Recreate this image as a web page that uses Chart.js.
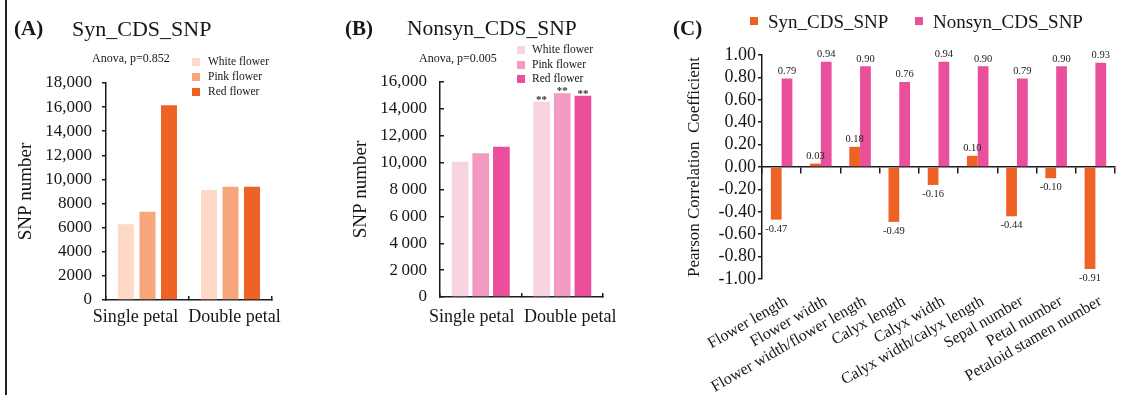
<!DOCTYPE html>
<html>
<head>
<meta charset="utf-8">
<title>SNP counts and trait correlations</title>
<script src="https://cdn.jsdelivr.net/npm/chart.js@4.4.1/dist/chart.umd.min.js"></script>
<style>
  html, body { margin: 0; padding: 0; background: #fff; }
  body { width: 1124px; height: 395px; position: relative; overflow: hidden;
         font-family: "Liberation Serif", "Times New Roman", serif; color: #161616; }
  canvas { position: absolute; top: 0; }
  .t { position: absolute; white-space: pre; line-height: 1; }
  .sw { position: absolute; width: 8px; height: 8px; }
  #frame { position: absolute; left: 5px; top: 0; width: 1.5px; height: 395px; background: #222; }
</style>
</head>
<body>
<div id="frame"></div>
<canvas id="chartA" width="300" height="395" style="left:0px"></canvas>
<canvas id="chartB" width="300" height="395" style="left:330px"></canvas>
<canvas id="chartC" width="484" height="395" style="left:640px"></canvas>
<script>
// ---- data -------------------------------------------------------------
const petalTypes = ['Single petal', 'Double petal'];
const flowerColours = ['White flower', 'Pink flower', 'Red flower'];

// synonymous CDS SNP counts per flower colour (single, double)
const synWhite = [6280, 9120];
const synPink  = [7320, 9400];
const synRed   = [16150, 9400];

// non-synonymous CDS SNP counts per flower colour (single, double)
const nonsynWhite = [10060, 14530];
const nonsynPink  = [10690, 15160];
const nonsynRed   = [11190, 14980];
// significance marks for the non-synonymous counts
const nonsynSigWhite = ['', '**'];
const nonsynSigPink  = ['', '**'];
const nonsynSigRed   = ['', '**'];

const anovaSyn = 'Anova, p=0.852';
const anovaNonsyn = 'Anova, p=0.005';

// Pearson correlation of SNP counts with floral traits
const traits = ['Flower length', 'Flower width', 'Flower width/flower length', 'Calyx length',
                'Calyx width', 'Calyx width/calyx length', 'Sepal number', 'Petal number',
                'Petaloid stamen number'];
const synCorr    = [-0.47, 0.03, 0.18, -0.49, -0.16, 0.10, -0.44, -0.10, -0.91];
const nonsynCorr = [0.79, 0.94, 0.90, 0.76, 0.94, 0.90, 0.79, 0.90, 0.93];

// ---- styling ------------------------------------------------------------
const SERIF = '"Liberation Serif", "Times New Roman", serif';
const INK = '#161616';
const AXIS = '#1c1c1c';
const H = 395;
const synColours = ['#fdd9c6', '#f7a77b', '#ef6226'];
const nonsynColours = ['#f8d3e2', '#f29ac2', '#eb4f9b'];
const corrColours = ['#ef6226', '#ea4f9c'];

// ---- text helpers -------------------------------------------------------
function placeText(text, left, baseline, size, extra) {
  const d = document.createElement('div');
  d.className = 't';
  d.textContent = text;
  d.style.left = left + 'px';
  d.style.top = (baseline - 0.8375 * size) + 'px';
  d.style.fontSize = size + 'px';
  if (extra) Object.assign(d.style, extra);
  document.body.appendChild(d);
}
function placeSwatch(colour, left, top) {
  const s = document.createElement('div');
  s.className = 'sw';
  s.style.left = left + 'px';
  s.style.top = top + 'px';
  s.style.background = colour;
  document.body.appendChild(s);
}

// panel letters and titles
placeText('(A)', 14, 36, 21, {fontWeight: 'bold'});
placeText('Syn_CDS_SNP', 72, 36.5, 22);
placeText(anovaSyn, 92, 62, 12);
placeText('(B)', 345, 36, 21, {fontWeight: 'bold'});
placeText('Nonsyn_CDS_SNP', 407, 36.5, 21.5);
placeText(anovaNonsyn, 419, 62, 12);
placeText('(C)', 673, 36, 21, {fontWeight: 'bold'});

// legends
const legendARows = [[58, 65.5], [73, 80.5], [88, 95.5]];
flowerColours.forEach((name, i) => {
  placeSwatch(synColours[i], 192, legendARows[i][0]);
  placeText(name, 208, legendARows[i][1], 11.5);
});
const legendBRows = [[46, 54], [61, 68.5], [75, 83]];
flowerColours.forEach((name, i) => {
  placeSwatch(nonsynColours[i], 517, legendBRows[i][0]);
  placeText(name, 532, legendBRows[i][1], 11.5);
});
const legendC = [['Syn_CDS_SNP', 750, 768], ['Nonsyn_CDS_SNP', 915, 933]];
legendC.forEach(([name, sx, tx], i) => {
  placeSwatch(corrColours[i], sx, 17);
  placeText(name, tx, 28, 19);
});

// ---- plugins ------------------------------------------------------------
// asterisks above significant bars
const sigMarks = {
  id: 'sigMarks',
  afterDatasetsDraw(chart, args, opts) {
    if (!opts.marks) return;
    const ctx = chart.ctx;
    ctx.save();
    ctx.font = 'bold 11px ' + SERIF;
    ctx.fillStyle = '#333';
    ctx.textAlign = 'center';
    ctx.textBaseline = 'alphabetic';
    opts.marks.forEach((row, i) => {
      chart.getDatasetMeta(i).data.forEach((bar, j) => {
        if (row[j]) ctx.fillText(row[j], bar.x, bar.y + 1);
      });
    });
    ctx.restore();
  }
};

// numeric labels at the ends of correlation bars
const valueLabels = {
  id: 'valueLabels',
  afterDatasetsDraw(chart, args, opts) {
    if (!opts.show) return;
    const ctx = chart.ctx;
    ctx.save();
    ctx.font = '10.5px ' + SERIF;
    ctx.fillStyle = '#222';
    ctx.textAlign = 'center';
    ctx.textBaseline = 'alphabetic';
    chart.data.datasets.forEach((ds, i) => {
      chart.getDatasetMeta(i).data.forEach((bar, j) => {
        const v = ds.data[j];
        const txt = v.toFixed(2);
        if (v >= 0) ctx.fillText(txt, bar.x, bar.y - 4.5);
        else ctx.fillText(txt, bar.x, bar.y + 12);
      });
    });
    ctx.restore();
  }
};

// ---- SNP count panels ---------------------------------------------------
// Each petal label sits on its own category axis so that the two can be
// nudged independently.
function onlyIndex(k) {
  return function (value, index) { return index === k ? this.getLabelForValue(value) : ''; };
}

function snpChart(canvasId, series, colours, yMax, fmt, area, o) {
  const labelFont = { family: SERIF, size: 18 };
  return new Chart(document.getElementById(canvasId), {
    type: 'bar',
    data: {
      labels: petalTypes,
      datasets: series.map((d, i) => ({
        label: flowerColours[i], data: d, backgroundColor: colours[i], borderWidth: 0,
        categoryPercentage: o.cp, barPercentage: o.bp
      }))
    },
    options: {
      responsive: false, animation: false, devicePixelRatio: 1,
      layout: { padding: { top: area.top, right: 300 - area.right, left: 0, bottom: 0 } },
      plugins: { legend: { display: false }, tooltip: { enabled: false }, sigMarks: { marks: o.marks } },
      scales: {
        x: {
          offset: true,
          grid: { display: true, offset: true, drawOnChartArea: false, drawTicks: true, tickLength: -4, color: AXIS, lineWidth: 1.5 },
          border: { display: true, color: AXIS, width: 1.5 },
          ticks: { color: INK, font: labelFont, padding: o.xPad, labelOffset: o.xShift[0],
                   callback: onlyIndex(0), maxRotation: 0, minRotation: 0, autoSkip: false },
          afterFit: s => { s.height = H - area.bottom; }
        },
        x2: {
          type: 'category', axis: 'x', labels: petalTypes, position: { y: 0 }, offset: true,
          grid: { display: false, drawTicks: false },
          border: { display: false },
          ticks: { color: INK, font: labelFont, padding: o.xPad - 4, labelOffset: o.xShift[1],
                   callback: onlyIndex(1), maxRotation: 0, minRotation: 0, autoSkip: false }
        },
        y: {
          min: 0, max: yMax,
          ticks: { stepSize: 2000, callback: fmt, color: INK, font: { family: SERIF, size: 17 }, padding: o.yPad, autoSkip: false },
          grid: { drawOnChartArea: false, drawTicks: true, tickLength: o.yTick, color: AXIS, lineWidth: 1.5 },
          border: { display: true, color: AXIS, width: 1.5 },
          title: { display: true, text: 'SNP number', color: INK, font: { family: SERIF, size: 19 }, padding: { top: o.titlePad, bottom: 0 } },
          afterFit: s => { s.width = area.left; }
        }
      }
    },
    plugins: [sigMarks]
  });
}

const fmtComma = v => v >= 10000 ? v.toLocaleString('en-US') : String(v);
const fmtThin = v => v >= 10000 ? v.toLocaleString('en-US')
                               : (v >= 1000 ? String(Math.floor(v / 1000)) + '\u2009' + String(v % 1000).padStart(3, '0') : String(v));

snpChart('chartA', [synWhite, synPink, synRed], synColours, 18000, fmtComma,
  { left: 106, right: 272, top: 83, bottom: 300 },
  { cp: 0.777, bp: 0.744, xPad: 10, xShift: [-12, 4], yPad: 10, yTick: 4, titlePad: 14.6, marks: null });

snpChart('chartB', [nonsynWhite, nonsynPink, nonsynRed], nonsynColours, 16000, fmtThin,
  { left: 110, right: 273, top: 82, bottom: 297 },
  { cp: 0.76, bp: 0.81, xPad: 13, xShift: [-9, 8], yPad: 17, yTick: -4, titlePad: 19.6,
    marks: [nonsynSigWhite, nonsynSigPink, nonsynSigRed] });

// ---- correlation panel --------------------------------------------------
const areaC = { left: 122, right: 475, top: 55, bottom: 279 };
new Chart(document.getElementById('chartC'), {
  type: 'bar',
  data: {
    labels: traits,
    datasets: [
      { label: 'Syn_CDS_SNP', data: synCorr, backgroundColor: corrColours[0], borderWidth: 0, categoryPercentage: 0.55, barPercentage: 1.0 },
      { label: 'Nonsyn_CDS_SNP', data: nonsynCorr, backgroundColor: corrColours[1], borderWidth: 0, categoryPercentage: 0.55, barPercentage: 1.0 }
    ]
  },
  options: {
    responsive: false, animation: false, devicePixelRatio: 1,
    layout: { padding: { top: areaC.top, right: 484 - areaC.right, left: 0, bottom: 0 } },
    plugins: { legend: { display: false }, tooltip: { enabled: false }, valueLabels: { show: true } },
    scales: {
      x: {
        offset: true,
        grid: { display: false, drawTicks: false },
        border: { display: false },
        ticks: { color: INK, font: { family: SERIF, size: 16 }, padding: 13, labelOffset: 5,
                 maxRotation: 30, minRotation: 30, autoSkip: false },
        afterFit: s => { s.height = H - areaC.bottom; }
      },
      x0: {
        type: 'category', axis: 'x', labels: traits, position: { y: 0 }, offset: true,
        grid: { display: true, offset: true, drawOnChartArea: false, drawTicks: true, tickLength: 6, color: AXIS, lineWidth: 1.5 },
        border: { display: true, color: AXIS, width: 1.5 },
        ticks: { display: false }
      },
      y: {
        min: -1, max: 1,
        ticks: { stepSize: 0.2, color: INK, font: { family: SERIF, size: 18 }, padding: 2, autoSkip: false,
                 callback: v => (Math.abs(v) < 1e-9 ? 0 : v).toFixed(2) },
        grid: { drawOnChartArea: false, drawTicks: true, tickLength: 4, color: AXIS, lineWidth: 1.5 },
        border: { display: true, color: AXIS, width: 1.5 },
        title: { display: true, text: 'Pearson Correlation  Coefficient', color: INK,
                 font: { family: SERIF, size: 17 }, padding: { top: 44.8, bottom: 0 } },
        afterFit: s => { s.width = areaC.left; }
      }
    }
  },
  plugins: [valueLabels]
});
</script>
</body>
</html>
